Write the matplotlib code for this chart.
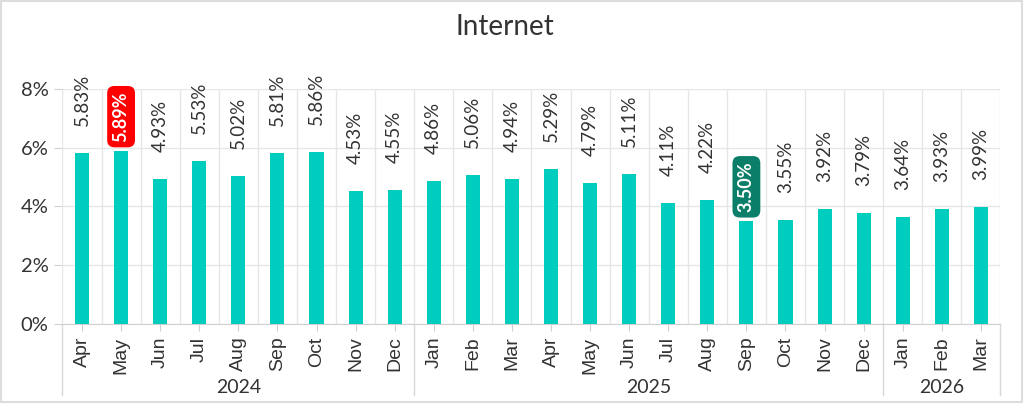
import matplotlib.pyplot as plt
import matplotlib.transforms as mtransforms
import numpy as np

months = ['Apr', 'May', 'Jun', 'Jul', 'Aug', 'Sep', 'Oct', 'Nov', 'Dec',
          'Jan', 'Feb', 'Mar', 'Apr', 'May', 'Jun', 'Jul', 'Aug', 'Sep', 'Oct', 'Nov', 'Dec',
          'Jan', 'Feb', 'Mar']
years = ['2024', '2025', '2026']
year_counts = [9, 12, 3]
values = [5.83, 5.89, 4.93, 5.53, 5.02, 5.81, 5.86, 4.53, 4.55,
          4.86, 5.06, 4.94, 5.29, 4.79, 5.11, 4.11, 4.22, 3.50, 3.55, 3.92, 3.79,
          3.64, 3.93, 3.99]

bar_color = '#00CDBE'
text_color = '#333333'
grid_color = '#E6E6E6'

plt.rcParams['font.family'] = ['Lato', 'DejaVu Sans']

fig = plt.figure(figsize=(10.24, 4.04), dpi=100)
ax = fig.add_axes([0.061, 0.198, 0.916, 0.582])

x = np.arange(len(values))
ax.bar(x, values, width=0.36, color=bar_color, zorder=3)

ax.set_xlim(-0.5, len(values) - 0.5)
ax.set_ylim(0, 8)
ax.set_yticks([0, 2, 4, 6, 8])
ax.set_yticklabels([f'{v}%' for v in [0, 2, 4, 6, 8]], fontsize=14.5, color=text_color)
ax.tick_params(axis='y', length=6, color='#D0D0D0', pad=4)
ax.grid(axis='y', color=grid_color, linewidth=1, zorder=0)

# vertical lines between categories
for b in np.arange(-0.5, len(values), 1.0):
    ax.axvline(b, color=grid_color, linewidth=1, zorder=0)

ax.set_xticks(x)
ax.set_xticklabels(months, rotation=90, fontsize=14, color=text_color,
                   fontfamily=['Liberation Sans', 'DejaVu Sans'], va='top')
ax.tick_params(axis='x', length=5, color='#D0D0D0', pad=4)

for s in ['top', 'right', 'left']:
    ax.spines[s].set_visible(False)
ax.spines['bottom'].set_color('#D0D0D0')

# value labels
vmax = max(values)
vmin = min(values)
for i, v in enumerate(values):
    txt = f'{v:.2f}%'
    if v == vmax or v == vmin:
        fc = '#FF0000' if v == vmax else '#0A7E68'
        ax.annotate(txt, (i, v), xytext=(0, 9), textcoords='offset pixels',
                    rotation=90, ha='center', va='bottom', fontsize=13,
                    color='white', fontweight='bold',
                    bbox=dict(boxstyle='round,pad=0.3,rounding_size=0.4', fc=fc, ec='none'))
    else:
        ax.annotate(txt, (i, v), xytext=(0, 27), textcoords='offset pixels',
                    rotation=90, ha='center', va='bottom', fontsize=13.5,
                    color=text_color)

# year groups
trans = mtransforms.blended_transform_factory(ax.transData, ax.transAxes)
start = 0
bounds = [-0.5]
for yr, n in zip(years, year_counts):
    center = start + (n - 1) / 2
    ax.text(center, -0.27, yr, transform=trans, ha='center', va='center',
            fontsize=14, color=text_color)
    start += n
    bounds.append(start - 0.5)
for b in bounds:
    ax.plot([b, b], [0, -0.302], transform=trans, color='#D8D8D8',
            linewidth=1, clip_on=False)

fig.text(0.493, 0.932, 'Internet', ha='center', va='center', fontsize=20, color=text_color)

# outer border
fig.patches.append(plt.Rectangle((0.001, 0.004), 0.997, 0.993, transform=fig.transFigure,
                                 fill=False, ec='#DDDDDD', linewidth=1.5))

fig.savefig('out.png', dpi=100)
